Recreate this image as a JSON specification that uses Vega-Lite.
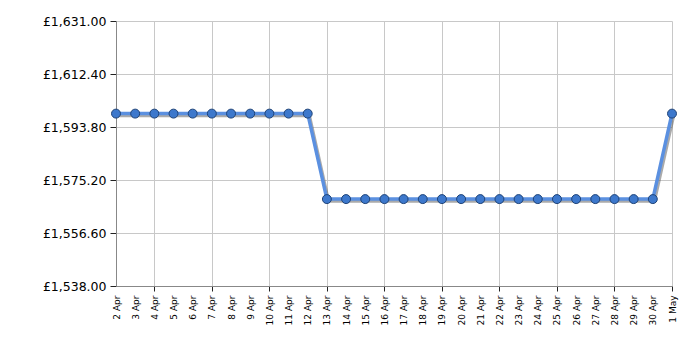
{
  "$schema": "https://vega.github.io/schema/vega-lite/v6.json",
  "autosize": "none",
  "width": 556,
  "height": 265,
  "padding": {"left": 116, "top": 21, "right": 28, "bottom": 64},
  "background": "white",
  "config": {
    "view": {"stroke": null},
    "axis": {"labelFont": "DejaVu Sans", "labelColor": "#000", "gridColor": "#c8c8c8", "domainColor": "#888", "tickColor": "#222"}
  },
  "data": {
    "values": [
      {"date": "2024-04-02", "price": 1598.5},
      {"date": "2024-04-03", "price": 1598.5},
      {"date": "2024-04-04", "price": 1598.5},
      {"date": "2024-04-05", "price": 1598.5},
      {"date": "2024-04-06", "price": 1598.5},
      {"date": "2024-04-07", "price": 1598.5},
      {"date": "2024-04-08", "price": 1598.5},
      {"date": "2024-04-09", "price": 1598.5},
      {"date": "2024-04-10", "price": 1598.5},
      {"date": "2024-04-11", "price": 1598.5},
      {"date": "2024-04-12", "price": 1598.5},
      {"date": "2024-04-13", "price": 1568.5},
      {"date": "2024-04-14", "price": 1568.5},
      {"date": "2024-04-15", "price": 1568.5},
      {"date": "2024-04-16", "price": 1568.5},
      {"date": "2024-04-17", "price": 1568.5},
      {"date": "2024-04-18", "price": 1568.5},
      {"date": "2024-04-19", "price": 1568.5},
      {"date": "2024-04-20", "price": 1568.5},
      {"date": "2024-04-21", "price": 1568.5},
      {"date": "2024-04-22", "price": 1568.5},
      {"date": "2024-04-23", "price": 1568.5},
      {"date": "2024-04-24", "price": 1568.5},
      {"date": "2024-04-25", "price": 1568.5},
      {"date": "2024-04-26", "price": 1568.5},
      {"date": "2024-04-27", "price": 1568.5},
      {"date": "2024-04-28", "price": 1568.5},
      {"date": "2024-04-29", "price": 1568.5},
      {"date": "2024-04-30", "price": 1568.5},
      {"date": "2024-05-01", "price": 1598.5}
    ]
  },
  "encoding": {
    "x": {
      "field": "date",
      "type": "temporal",
      "scale": {"type": "utc", "domain": ["2024-04-02", "2024-05-01"]},
      "axis": {
        "title": null,
        "values": ["2024-04-02","2024-04-03","2024-04-04","2024-04-05","2024-04-06","2024-04-07","2024-04-08","2024-04-09","2024-04-10","2024-04-11","2024-04-12","2024-04-13","2024-04-14","2024-04-15","2024-04-16","2024-04-17","2024-04-18","2024-04-19","2024-04-20","2024-04-21","2024-04-22","2024-04-23","2024-04-24","2024-04-25","2024-04-26","2024-04-27","2024-04-28","2024-04-29","2024-04-30","2024-05-01"],
        "format": "%-d %b",
        "labelAngle": -90,
        "labelFontSize": 9,
        "labelPadding": 4,
        "tickSize": 5,
        "labelOverlap": false,
        "labelFlush": false,
        "tickColor": {"condition": {"test": "round((datum.value - datetime(2024,3,2)) / 86400000) % 3 == 2", "value": "#222"}, "value": "transparent"},
        "gridColor": {"condition": {"test": "round((datum.value - datetime(2024,3,2)) / 86400000) % 3 == 2", "value": "#c8c8c8"}, "value": "transparent"},
        "grid": true
      }
    },
    "y": {
      "field": "price",
      "type": "quantitative",
      "scale": {"domain": [1538, 1631], "nice": false, "zero": false},
      "axis": {
        "title": null,
        "values": [1538, 1556.6, 1575.2, 1593.8, 1612.4, 1631],
        "labelExpr": "'£' + format(datum.value, ',.2f')",
        "labelFontSize": 12.5,
        "tickSize": 6,
        "labelPadding": 4,
        "grid": true
      }
    }
  },
  "layer": [
    {"mark": {"type": "line", "color": "#555", "opacity": 0.5, "strokeWidth": 3.5, "xOffset": 1.5, "yOffset": 2}},
    {"mark": {"type": "line", "color": "#5b90e0", "strokeWidth": 3.5}},
    {"mark": {"type": "point", "filled": true, "fill": "#3d78cc", "stroke": "#1d4277", "strokeWidth": 1, "size": 80, "opacity": 1}}
  ]
}
